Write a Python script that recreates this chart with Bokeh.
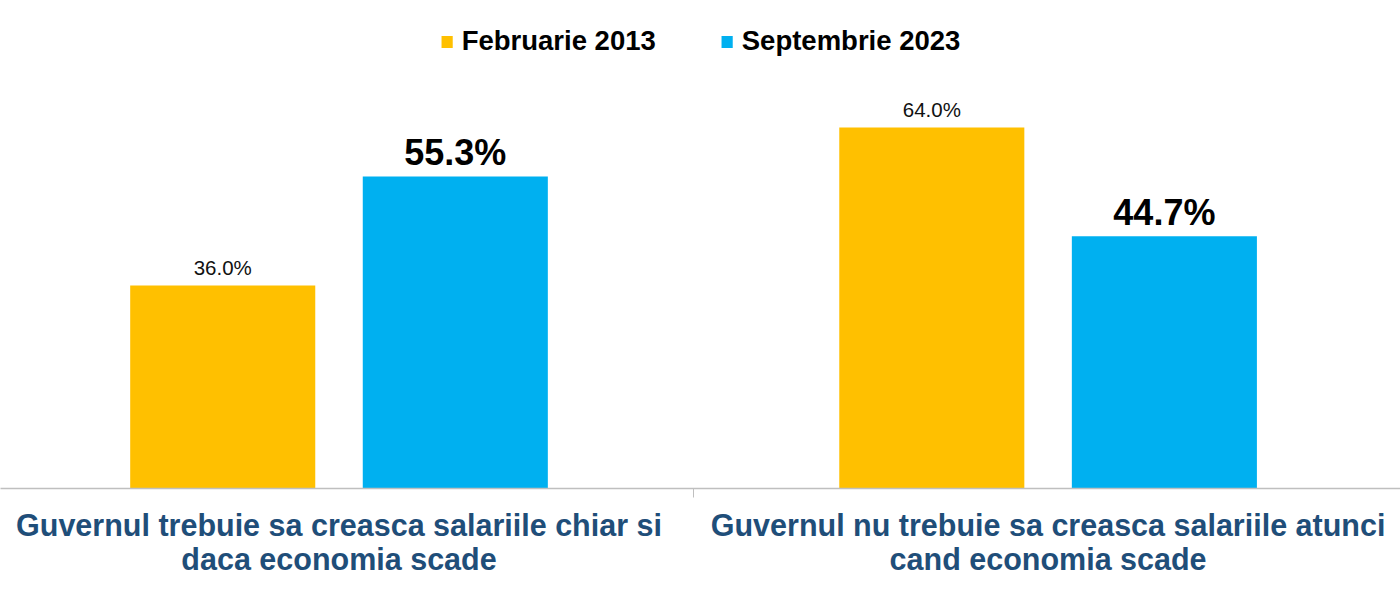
from bokeh.plotting import figure
from bokeh.models import ColumnDataSource, FixedTicker, Range1d, Legend, LegendItem
from bokeh.transform import dodge
from bokeh.embed import file_html
from bokeh.resources import INLINE

categories = ["Guvernul trebuie sa creasca salariile chiar si\ndaca economia scade",
              "Guvernul nu trebuie sa creasca salariile atunci\ncand economia scade"]
series_names = ["Februarie 2013", "Septembrie 2023"]
feb_2013 = [36.0, 64.0]
sep_2023 = [55.3, 44.7]

xs = [i + 0.5 for i in range(len(categories))]
src = ColumnDataSource(dict(
    x=xs,
    feb=feb_2013,
    sep=sep_2023,
    feb_lbl=[f"{v:.1f}%" for v in feb_2013],
    sep_lbl=[f"{v:.1f}%" for v in sep_2023],
))

p = figure(width=1400, height=600, output_backend="svg", toolbar_location=None,
           x_range=Range1d(0.0226, 1.997), y_range=Range1d(0, 86.5),
           min_border_left=0, min_border_right=0, min_border_top=0, min_border_bottom=112)
p.outline_line_color = None
p.xgrid.visible = False
p.ygrid.visible = False
p.yaxis.visible = False

YEL = "#FFC000"
BLU = "#00B0F0"
W = 0.261
r1 = p.vbar(x=dodge("x", -0.164, range=p.x_range), top="feb", bottom=0, width=W,
            source=src, fill_color=YEL, line_color=None)
r2 = p.vbar(x=dodge("x", 0.164, range=p.x_range), top="sep", bottom=0, width=W,
            source=src, fill_color=BLU, line_color=None)

p.text(x=dodge("x", -0.164, range=p.x_range), y="feb", text="feb_lbl", source=src,
       text_align="center", text_baseline="alphabetic", y_offset=-18,
       text_font_size="20.5px", text_color="#111111", text_font={"value": "Liberation Sans"})
p.text(x=dodge("x", 0.164, range=p.x_range), y="sep", text="sep_lbl", source=src,
       text_align="center", text_baseline="alphabetic", y_offset=-24,
       text_font_size="36px", text_font_style="bold", text_color="#000000",
       text_font={"value": "Liberation Sans"})

ax = p.xaxis[0]
ax.ticker = FixedTicker(ticks=xs, minor_ticks=[1.0])
ax.major_label_overrides = {x: c for x, c in zip(xs, categories)}
ax.axis_line_color = "#BFBFBF"
ax.axis_line_width = 1.5
ax.major_tick_line_color = None
ax.minor_tick_line_color = "#BFBFBF"
ax.minor_tick_out = 9
ax.minor_tick_in = 0
ax.major_label_standoff = 10
ax.major_label_text_font = "Liberation Sans"
ax.major_label_text_font_size = "30.5px"
ax.major_label_text_font_style = "bold"
ax.major_label_text_color = "#1F4E79"
ax.major_label_text_line_height = 1.0

legend = Legend(items=[LegendItem(label=series_names[0], renderers=[r1]),
                       LegendItem(label=series_names[1], renderers=[r2])],
                orientation="horizontal", location="top_center",
                glyph_width=14, glyph_height=15, label_standoff=8, spacing=64,
                padding=0, margin=25, border_line_color=None, background_fill_alpha=0,
                label_text_font="Liberation Sans", label_text_font_size="27.5px",
                label_text_font_style="bold", label_text_color="#000000")
p.add_layout(legend)

open("out.html", "w").write(file_html(p, INLINE))
